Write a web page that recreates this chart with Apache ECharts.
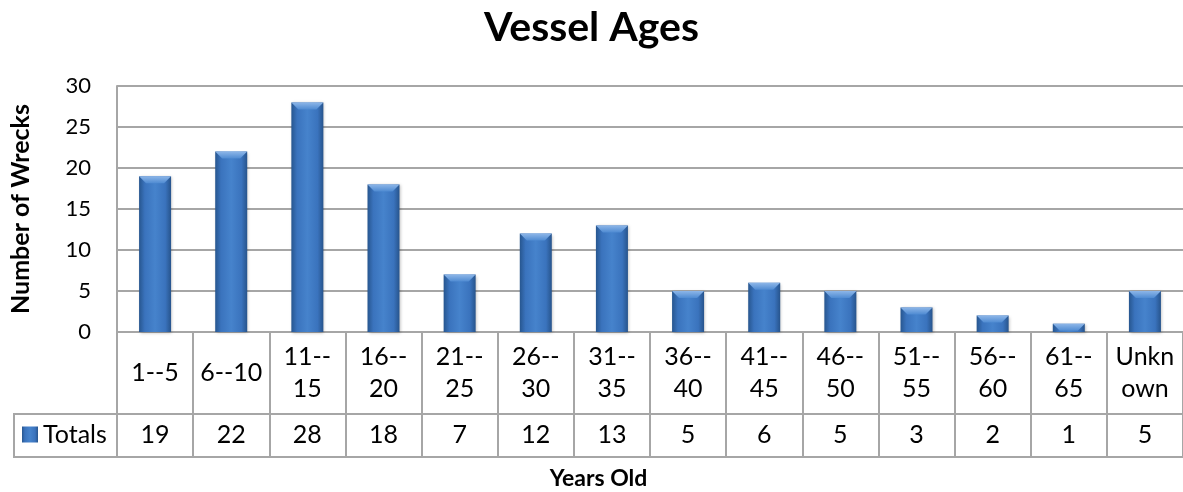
<!DOCTYPE html>
<html>
<head>
<meta charset="utf-8">
<script src="https://cdn.jsdelivr.net/npm/echarts@6/dist/echarts.min.js"></script>
<style>
html,body{margin:0;padding:0;background:#fff;}
#chart{width:1183px;height:492px;}
</style>
</head>
<body>
<div id="chart"></div>
<script>
const categories = ['1--5','6--10','11--15','16--20','21--25','26--30','31--35','36--40','41--45','46--50','51--55','56--60','61--65','Unknown'];
const totals = [19,22,28,18,7,12,13,5,6,5,3,2,1,5];
const seriesName = 'Totals';
const yMin = 0, yMax = 30, yStep = 5;

const FONT = 'Lato';
const LINE = '#a6a6a6';

function wrap(s){
  if (s.length <= 5) return s;
  const i = s.indexOf('--');
  return i >= 0 ? s.slice(0, i + 2) + '\n' + s.slice(i + 2) : s.slice(0, 4) + '\n' + s.slice(4);
}

const barColor = {
  type: 'linear', x: 0, y: 0, x2: 1, y2: 0,
  colorStops: [
    {offset: 0, color: '#27568f'},
    {offset: 0.18, color: '#3a73bd'},
    {offset: 0.5, color: '#4683cc'},
    {offset: 0.82, color: '#3a73bd'},
    {offset: 1, color: '#27548c'}
  ]
};
const capColor = {
  type: 'linear', x: 0, y: 0, x2: 0, y2: 1,
  colorStops: [
    {offset: 0, color: '#8db6e8'},
    {offset: 1, color: '#4f8bd2'}
  ]
};

const chart = echarts.init(document.getElementById('chart'));
chart.setOption({
  animation: false,
  textStyle: {fontFamily: FONT, color: '#000'},
  title: {
    text: 'Vessel Ages', left: 'center', top: 2,
    textStyle: {fontSize: 41, fontWeight: 'bold', fontFamily: FONT, color: '#000'}
  },
  legend: {
    data: [seriesName], left: 22, top: 422, padding: 0,
    icon: 'rect', itemWidth: 16, itemHeight: 16,
    textStyle: {fontSize: 25, fontFamily: FONT, color: '#000'}
  },
  grid: [
    {left: 117, top: 86, width: 1071, height: 246},
    {left: 117, top: 414, width: 1071, height: 43},
    {left: 14, top: 414, width: 103, height: 43, show: true, borderColor: LINE, borderWidth: 2, backgroundColor: 'transparent'}
  ],
  xAxis: [
    {
      gridIndex: 0, type: 'category', data: categories,
      axisLine: {show: true, lineStyle: {color: LINE, width: 2}},
      axisTick: {show: true, length: 82, lineStyle: {color: LINE, width: 2}},
      axisLabel: {interval: 0, verticalAlign: 'middle', margin: 41, lineHeight: 32, fontSize: 25, color: '#000', fontFamily: FONT, formatter: wrap},
      splitLine: {show: false}
    },
    {
      gridIndex: 1, type: 'category', data: categories, position: 'bottom',
      axisLine: {show: true, lineStyle: {color: LINE, width: 2}},
      axisTick: {show: true, inside: true, length: 43, lineStyle: {color: LINE, width: 2}},
      axisLabel: {interval: 0, inside: true, margin: 22, verticalAlign: 'middle', fontSize: 25, color: '#000', fontFamily: FONT,
        formatter: function(v, i){ return String(totals[i]); }},
      name: 'Years Old', nameLocation: 'middle', nameGap: 10,
      nameTextStyle: {fontSize: 23, fontWeight: 'bold', fontFamily: FONT, color: '#000', padding: [0, 103, 0, 0]}
    },
    {gridIndex: 2, type: 'value', show: false}
  ],
  yAxis: [
    {
      gridIndex: 0, type: 'value', min: yMin, max: yMax, interval: yStep,
      axisLine: {show: true, lineStyle: {color: LINE, width: 2}},
      axisTick: {show: false},
      axisLabel: {fontSize: 22, margin: 26, color: '#000', fontFamily: FONT},
      splitLine: {show: true, lineStyle: {color: LINE, width: 2}},
      name: 'Number of Wrecks', nameLocation: 'middle', nameGap: 84,
      nameTextStyle: {fontSize: 25, fontWeight: 'bold', fontFamily: FONT, color: '#000'}
    },
    {
      gridIndex: 1, type: 'value', min: 0, max: 1, interval: 1,
      axisLine: {show: true, lineStyle: {color: LINE, width: 2}},
      axisTick: {show: false}, axisLabel: {show: false},
      splitLine: {show: true, lineStyle: {color: LINE, width: 2}}
    },
    {gridIndex: 2, type: 'value', show: false}
  ],
  series: [
    {
      name: seriesName, type: 'bar', xAxisIndex: 0, yAxisIndex: 0,
      data: totals, barWidth: 32, z: 2,
      itemStyle: {color: barColor, shadowColor: 'rgba(0,0,0,0.25)', shadowBlur: 3, shadowOffsetX: 1, shadowOffsetY: 1}
    },
    {
      name: 'cap', type: 'pictorialBar', xAxisIndex: 0, yAxisIndex: 0,
      data: totals, silent: true, legendHoverLink: false, z: 3,
      symbol: 'path://M0,0 L32,0 L25,7 L7,7 Z',
      symbolSize: [32, 7], symbolPosition: 'end',
      itemStyle: {color: capColor}
    }
  ]
});
</script>
</body>
</html>
